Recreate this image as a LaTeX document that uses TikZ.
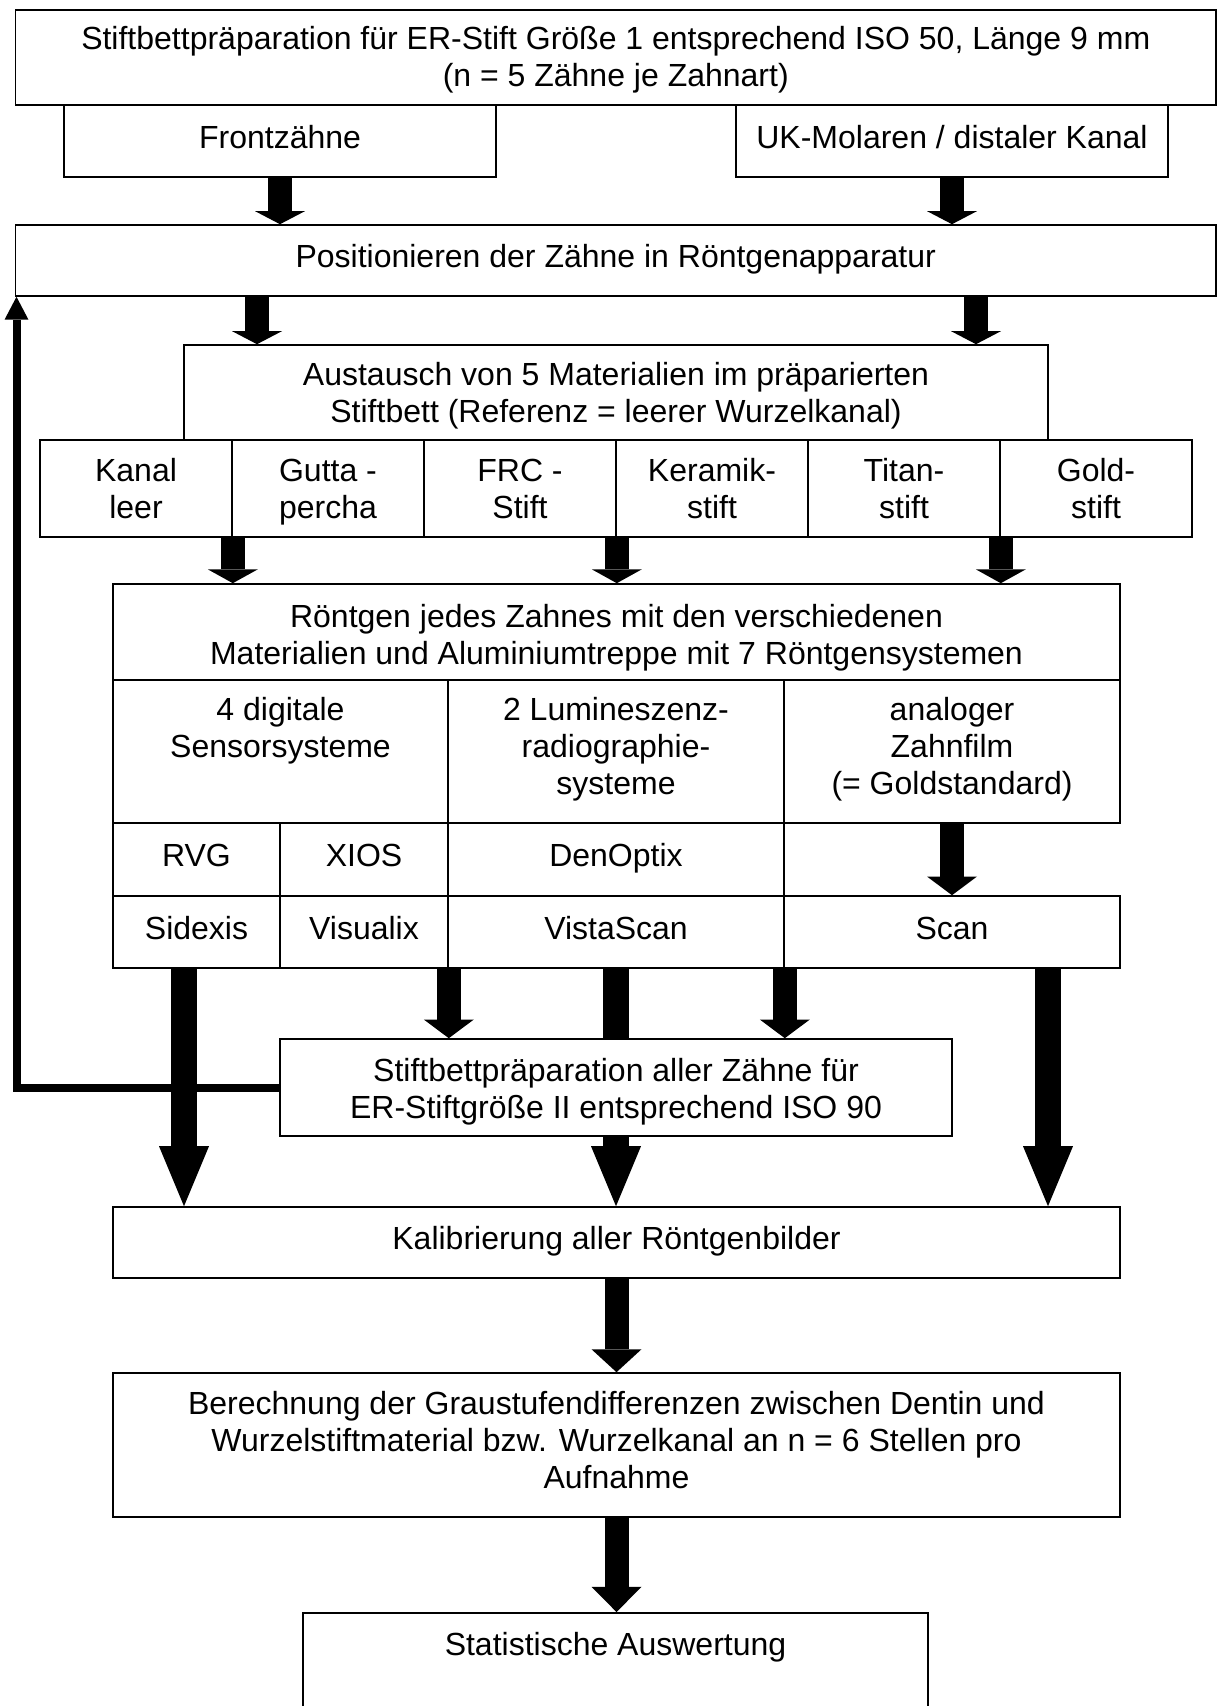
\documentclass[tikz,border=0pt]{standalone}
\usepackage{fontspec}
\setmainfont{Liberation Sans}
\usepackage{tikz}
\usetikzlibrary{arrows.meta}
\def\px{0.375pt}

\begin{document}
\begin{tikzpicture}[x=0.375pt,y=-0.375pt,
		box/.style 2 args={draw, line width=0.6pt, fill=white, align=center, inner sep=4pt,
			minimum width=#1*\px, minimum height=#2*\px,
			execute at begin node=\strut, execute at end node=\strut,
			font=\fontsize{12pt}{13.875pt}\selectfont},
		low/.style={text height=#1, inner ysep=0pt},
		fat/.style={line width=9pt, -{Triangle[length=#1, width=18.75pt, line width=0pt]}},
		fatlong/.style={line width=9.75pt, -{Triangle[length=22.5pt, width=18.75pt, line width=0pt]}},
		back/.style={line width=3pt, -{Triangle[length=8.6pt, width=9pt, line width=0pt]}}]
		\useasboundingbox (0,0) rectangle (1218,1706);
		\clip (0,0) rectangle (1218,1706);

		% --- TOP: first preparation and tooth groups ---
		\node[box={1200.5}{95}, low=26pt] (prep) at (615.75,57.5) {Stiftbettpräparation für ER-Stift Größe 1 entsprechend ISO 50, Länge 9 mm\\(n = 5 Zähne je Zahnart)};
		\node[box={432}{72}] (front) at (280,141) {Frontzähne};
		\node[box={432}{72}] (uk) at (952,141) {UK-Molaren / distaler Kanal};
		\node[box={1200.5}{71}] (pos) at (615.75,260.5) {Positionieren der Zähne in Röntgenapparatur};
		\node[box={864}{95}, low=26.6pt] (swap) at (616,392.5) {Austausch von 5 Materialien im präparierten\\Stiftbett (Referenz = leerer Wurzelkanal)};

		% --- materials ---
		\node[box={192}{97}, low=26.6pt] (leer) at (136,488.5) {Kanal\\leer};
		\node[box={192}{97}, low=26.6pt] (gutta) at (328,488.5) {Gutta -\\percha};
		\node[box={192}{97}, low=26.6pt] (frc) at (520,488.5) {FRC -\\Stift};
		\node[box={192}{97}, low=26.6pt] (ceram) at (712,488.5) {Keramik-\\stift};
		\node[box={192}{97}, low=26.6pt] (titan) at (904,488.5) {Titan-\\stift};
		\node[box={192}{97}, low=26.6pt] (gold) at (1096,488.5) {Gold-\\stift};

		% --- MIDDLE: x-ray systems ---
		\node[box={1007}{96}, low=28.2pt] (xray) at (616.5,632) {Röntgen jedes Zahnes mit den verschiedenen\\Materialien und Aluminiumtreppe mit 7 Röntgensystemen};
		\node[box={335}{143}] (digi) at (280.5,751.5) {4 digitale\\Sensorsysteme\\\strut};
		\node[box={336}{143}] (lumi) at (616,751.5) {2 Lumineszenz-\\radiographie-\\systeme};
		\node[box={336}{143}] (film) at (952,751.5) {analoger\\Zahnfilm\\(= Goldstandard)};
		\node[box={167}{73}] (rvg) at (196.5,859.5) {RVG};
		\node[box={168}{73}] (xios) at (364,859.5) {XIOS};
		\node[box={336}{73}] (denopt) at (616,859.5) {DenOptix};
		\node[box={167}{72}] (sidexis) at (196.5,932) {Sidexis};
		\node[box={168}{72}] (visualix) at (364,932) {Visualix};
		\node[box={336}{72}] (vista) at (616,932) {VistaScan};
		\node[box={336}{72}] (scan) at (952,932) {Scan};

		% --- BOTTOM: second preparation and evaluation ---
		\node[box={672}{97}, low=27.4pt] (prep2) at (616,1087.5) {Stiftbettpräparation aller Zähne für\\ER-Stiftgröße II entsprechend ISO 90};
		\node[box={1007}{71}] (calib) at (616.5,1242.5) {Kalibrierung aller Röntgenbilder};
		\node[box={1007}{144}] (grey) at (616.5,1445) {Berechnung der Graustufendifferenzen zwischen Dentin und\\Wurzelstiftmaterial bzw. Wurzelkanal an n = 6 Stellen pro\\Aufnahme};
		\node[box={625}{0}, anchor=north, text height=12pt, text depth=40pt] (stats) at (615.5,1612) {Statistische Auswertung};

		\coordinate (pa) at (257,0);
		\coordinate (pb) at (976,0);
		\coordinate (sl) at (184,0);
		\coordinate (sr) at (1048,0);
		\coordinate (fb) at (16.5,0);

		% --- arrows ---
		\draw[fat=4.9pt] (front.south) -- (front.south |- pos.north);
		\draw[fat=4.9pt] (uk.south) -- (uk.south |- pos.north);
		\draw[fat=4.9pt] (pos.south -| pa) -- (swap.north -| pa);
		\draw[fat=4.9pt] (pos.south -| pb) -- (swap.north -| pb);
		\draw[fat=5.2pt] (leer.south east) -- (xray.north -| leer.south east);
		\draw[fat=5.2pt] (frc.south east) -- (xray.north -| frc.south east);
		\draw[fat=5.2pt] (titan.south east) -- (xray.north -| titan.south east);
		\draw[fat=7pt] (film.south) -- (scan.north);
		\draw[fat=7pt] (visualix.south east) -- (prep2.north -| visualix.south east);
		\draw[fat=7pt] (vista.south east) -- (prep2.north -| vista.south east);
		\draw[line width=9.75pt] (vista.south) -- (prep2.north);
		\draw[fatlong] (prep2.south) -- (calib.north -| prep2.south);
		\draw[fatlong] (sidexis.south -| sl) -- (calib.north -| sl);
		\draw[fatlong] (scan.south -| sr) -- (calib.north -| sr);
		\draw[back] (prep2.west) -| (pos.south -| fb);
		\draw[fat=8.6pt] (calib.south) -- (grey.north);
		\draw[fat=9.4pt] (grey.south) -- (grey.south |- stats.north);
	\end{tikzpicture}
\end{document}
